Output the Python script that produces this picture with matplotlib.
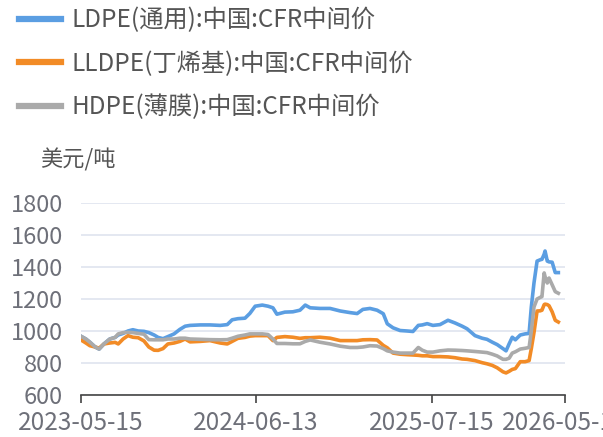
import numpy as np
import pandas as pd
import matplotlib
matplotlib.use("Agg")
import matplotlib.pyplot as plt
import matplotlib.dates as mdates
from matplotlib.lines import Line2D

plt.rcParams['font.family'] = ['Noto Sans CJK SC', 'DejaVu Sans']

# values (USD/ton)
dates = [
    "2023-05-15", "2023-05-26", "2023-06-04", "2023-06-16", "2023-06-25", "2023-07-06",
    "2023-07-19", "2023-07-31", "2023-08-07", "2023-08-18", "2023-08-29", "2023-09-09",
    "2023-09-21", "2023-10-04", "2023-10-15", "2023-10-27", "2023-11-05", "2023-11-16",
    "2023-11-27", "2023-12-11", "2023-12-24", "2024-01-05", "2024-01-16", "2024-02-08",
    "2024-03-01", "2024-03-24", "2024-04-09", "2024-04-20", "2024-05-03", "2024-05-19",
    "2024-05-30", "2024-06-11", "2024-06-27", "2024-07-10", "2024-07-21", "2024-07-30",
    "2024-08-17", "2024-09-04", "2024-09-20", "2024-10-02", "2024-10-13", "2024-11-04",
    "2024-11-27", "2024-12-20", "2025-01-11", "2025-01-27", "2025-02-09", "2025-02-25",
    "2025-03-13", "2025-03-27", "2025-04-05", "2025-04-18", "2025-05-04", "2025-05-20",
    "2025-06-02", "2025-06-14", "2025-06-23", "2025-07-04", "2025-07-17", "2025-08-02",
    "2025-08-20", "2025-09-05", "2025-09-21", "2025-10-02", "2025-10-20", "2025-11-05",
    "2025-11-16", "2025-11-28", "2025-12-09", "2025-12-22", "2025-12-29", "2026-01-05",
    "2026-01-12", "2026-01-19", "2026-01-30", "2026-02-10", "2026-02-19", "2026-02-24",
    "2026-03-02", "2026-03-09", "2026-03-16", "2026-03-20", "2026-03-25", "2026-03-27",
    "2026-04-01", "2026-04-05", "2026-04-12", "2026-04-19", "2026-04-26",
]

ldpe = [
    967, 950, 930, 900, 887, 920, 950, 960, 975, 985, 1000, 1008,
    1000, 998, 990, 975, 960, 952, 965, 982, 1010, 1030, 1035, 1038,
    1038, 1035, 1040, 1070, 1077, 1080, 1110, 1155, 1162, 1155, 1145, 1105,
    1118, 1120, 1130, 1162, 1145, 1141, 1141, 1125, 1115, 1109, 1135, 1141,
    1130, 1108, 1045, 1020, 1003, 1000, 997, 1035, 1038, 1046, 1035, 1040,
    1067, 1050, 1030, 1014, 971, 955, 948, 930, 915, 890, 876, 920,
    961, 945, 975, 982, 985, 1150, 1300, 1437, 1445, 1448, 1480, 1500,
    1437, 1432, 1430, 1365, 1365,
]

lldpe = [
    944, 925, 908, 900, 893, 919, 925, 929, 919, 950, 971, 961,
    958, 938, 900, 880, 879, 890, 919, 925, 935, 950, 932, 935,
    940, 925, 919, 935, 954, 960, 968, 971, 971, 971, 940, 960,
    965, 961, 954, 958, 958, 961, 955, 940, 940, 940, 945, 946,
    944, 910, 895, 862, 855, 852, 850, 848, 845, 845, 840, 840,
    838, 833, 825, 823, 815, 802, 795, 785, 770, 745, 738, 748,
    760, 765, 808, 808, 815, 890, 990, 1125, 1126, 1130, 1165, 1168,
    1165, 1158, 1120, 1067, 1056,
]

hdpe = [
    967, 950, 930, 900, 887, 920, 950, 960, 982, 990, 992, 990,
    985, 980, 946, 945, 945, 945, 950, 950, 955, 955, 950, 948,
    946, 945, 946, 955, 967, 975, 982, 982, 982, 978, 950, 922,
    922, 920, 920, 935, 944, 930, 919, 905, 897, 897, 900, 908,
    906, 890, 876, 868, 862, 862, 862, 897, 880, 868, 868, 876,
    881, 880, 878, 876, 872, 868, 865, 855, 844, 823, 823, 830,
    862, 870, 887, 892, 897, 1000, 1150, 1200, 1210, 1215, 1363, 1340,
    1300, 1331, 1289, 1246, 1236,
]

labels = ["LDPE(通用):中国:CFR中间价", "LLDPE(丁烯基):中国:CFR中间价", "HDPE(薄膜):中国:CFR中间价"]
colors = ["#5b9ee2", "#f28b26", "#aaaaaa"]
xticks = ["2023-05-15", "2024-06-13", "2025-07-15", "2026-05-11"]
yticks = [600, 800, 1000, 1200, 1400, 1600, 1800]

x = pd.to_datetime(dates)
tick_dates = pd.to_datetime(xticks)

fig = plt.figure(figsize=(6.03, 4.37), dpi=100)
ax = fig.add_axes([81 / 603, 42 / 437, 484 / 603, 192 / 437])

for series, c in zip([ldpe, lldpe, hdpe], colors):
    ax.plot(x, series, color=c, linewidth=2.6, solid_joinstyle='round')

ax.set_ylim(600, 1800)
ax.set_xlim(tick_dates[0], tick_dates[-1])
ax.set_yticks(yticks)
ax.set_xticks(tick_dates)
ax.set_xticklabels(xticks)
ax.grid(axis='y', color='#dfe4ef', linewidth=1.2)
ax.set_axisbelow(True)
for s in ['top', 'right', 'left']:
    ax.spines[s].set_visible(False)
ax.spines['bottom'].set_color('#444444')
ax.spines['bottom'].set_linewidth(1.2)
ax.tick_params(axis='y', length=0, pad=13, labelsize=17, labelcolor='#6e7079')
ax.tick_params(axis='x', length=6, width=1.2, color='#444444', pad=5,
               labelsize=17.5, labelcolor='#6e7079')

fig.text(40 / 603, 1 - 160 / 437, "美元/吨", fontsize=16, color='#555555', va='center')

handles = [Line2D([0], [0], color=c, linewidth=4.5) for c in colors]
fig.legend(handles, labels, loc='upper left', bbox_to_anchor=(17 / 603, 1 - 5 / 437), frameon=False,
           fontsize=17.5, labelcolor='#555555', handlelength=1.7, handletextpad=0.45,
           labelspacing=0.72, borderaxespad=0.0, borderpad=0.1)

fig.savefig("out.png", dpi=100)
